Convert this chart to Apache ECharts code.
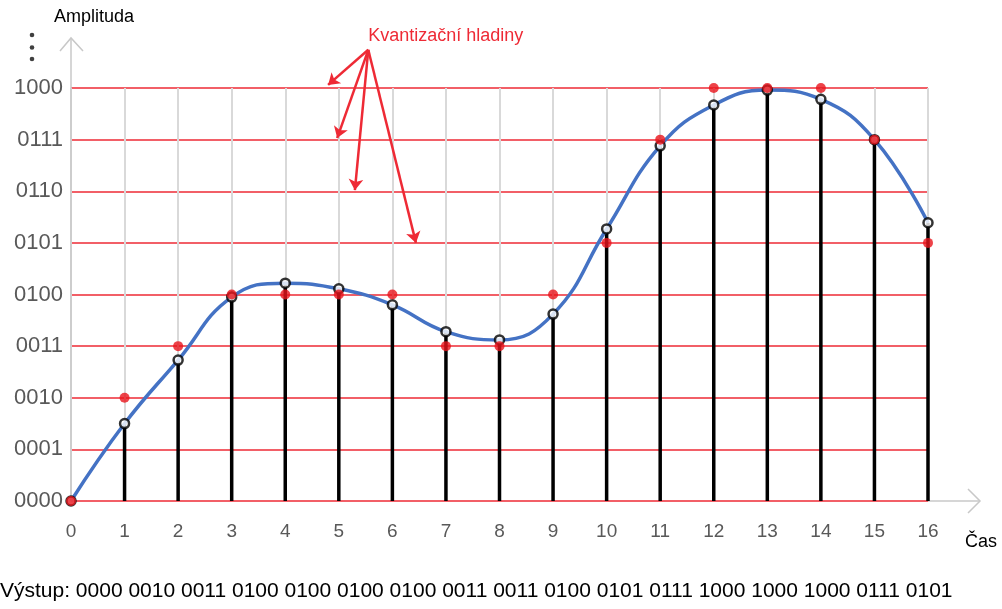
<!DOCTYPE html>
<html>
<head>
<meta charset="utf-8">
<script src="https://cdn.jsdelivr.net/npm/echarts@6/dist/echarts.min.js"></script>
<style>
  html, body { margin: 0; padding: 0; background: #fff; }
  #chart { width: 1002px; height: 609px; }
</style>
</head>
<body>
<div id="chart"></div>
<script>
// sample times and quantization levels
const times = [0, 1, 2, 3, 4, 5, 6, 7, 8, 9, 10, 11, 12, 13, 14, 15, 16];
const levelLabels = ['0000', '0001', '0010', '0011', '0100', '0101', '0110', '0111', '1000'];
// sampled amplitude (black circles, on the blue curve)
const samples = [0, 1.50, 2.73, 3.95, 4.22, 4.11, 3.80, 3.28, 3.12, 3.62, 5.27, 6.88, 7.67, 7.96, 7.78, 7.00, 5.39];
// quantized level (red dots)
const quantized = [0, 2, 3, 4, 4, 4, 4, 3, 3, 4, 5, 7, 8, 8, 8, 7, 5];
// annotation arrows "Kvantizační hladiny" (data coords)
const arrowFrom = [5.55, 8.74];
const arrowTips = [[4.80, 8.06], [4.97, 7.03], [5.30, 6.02], [6.44, 5.00]];

const FONT = 'Liberation Sans, Arial, sans-serif';
const RED = '#ee2a35';

const chart = echarts.init(document.getElementById('chart'));

const curve = times.map((t, i) => [t, samples[i]]);
const dots = times.map((t, i) => [t, quantized[i]]);
const outputText = 'Výstup: ' + quantized.map(q => levelLabels[q]).join(' ');

chart.setOption({
  animation: false,
  backgroundColor: '#fff',
  textStyle: { fontFamily: FONT },
  grid: { left: 71, right: 74, top: 88, bottom: 108 },
  title: {
    text: outputText, left: 0, top: 581, padding: 0,
    textStyle: { fontFamily: FONT, fontSize: 21, fontWeight: 'normal', color: '#000' },
  },
  xAxis: {
    type: 'value', min: 0, max: 16, interval: 1,
    axisLine: { show: false },
    axisTick: { show: false },
    axisLabel: { color: '#595959', fontSize: 19, margin: 21, fontFamily: FONT },
    splitLine: { show: true, lineStyle: { color: '#d9d9d9', width: 2 } },
  },
  yAxis: {
    type: 'value', min: 0, max: 8, interval: 1,
    axisLine: { show: false },
    axisTick: { show: false },
    axisLabel: {
      color: '#595959', fontSize: 22, margin: 8, fontFamily: FONT,
      formatter: v => levelLabels[v] ?? '',
    },
    splitLine: { show: true, lineStyle: { color: RED, width: 1.5 } },
  },
  series: [
    {
      // stems
      type: 'bar', data: curve, barWidth: 3.5,
      itemStyle: { color: '#000' }, z: 2, silent: true,
    },
    {
      type: 'line', data: curve, smooth: 0.45, symbol: 'none', clip: false,
      lineStyle: { color: '#4472c4', width: 3.5 }, z: 3,
    },
    {
      type: 'scatter', data: curve, symbol: 'circle', symbolSize: 9, clip: false,
      itemStyle: { color: '#fff', borderColor: '#000', borderWidth: 2.5 }, z: 4,
    },
    {
      type: 'scatter', data: dots, symbol: 'circle', symbolSize: 10, clip: false,
      itemStyle: { color: '#e8141c' }, z: 5,
    },
    {
      type: 'lines', coordinateSystem: 'cartesian2d', clip: false, z: 6,
      symbol: ['none', 'arrow'], symbolSize: 11,
      lineStyle: { color: RED, width: 2.5, opacity: 1 },
      data: arrowTips.map(tip => ({ coords: [arrowFrom, tip] })),
    },
  ],
});

// axis arrows and free text placed from the grid corners
function drawExtras() {
  const o = chart.convertToPixel({ gridIndex: 0 }, [0, 0]);
  const r = chart.convertToPixel({ gridIndex: 0 }, [16, 0]);
  const a = chart.convertToPixel({ gridIndex: 0 }, arrowFrom);
  const axisStyle = { stroke: '#c8c8c8', lineWidth: 1.5, fill: null };
  const yTop = 38, xEnd = 980;
  chart.setOption({
    graphic: [
      { type: 'line', shape: { x1: o[0], y1: o[1], x2: o[0], y2: yTop }, style: axisStyle, z: 1 },
      { type: 'polyline', shape: { points: [[o[0] - 11, yTop + 13], [o[0], yTop], [o[0] + 12, yTop + 13]] }, style: axisStyle },
      { type: 'line', shape: { x1: r[0], y1: r[1], x2: xEnd, y2: r[1] }, style: axisStyle, z: 1 },
      { type: 'polyline', shape: { points: [[xEnd - 12, r[1] - 12], [xEnd, r[1]], [xEnd - 12, r[1] + 12]] }, style: axisStyle },
      { type: 'circle', shape: { cx: 32, cy: 35, r: 2.3 }, style: { fill: '#404040' } },
      { type: 'circle', shape: { cx: 32, cy: 47.5, r: 2.3 }, style: { fill: '#404040' } },
      { type: 'circle', shape: { cx: 32, cy: 59, r: 2.3 }, style: { fill: '#404040' } },
      { type: 'text', left: 54, top: 8, style: { text: 'Amplituda', font: '18px ' + FONT, fill: '#000' } },
      { type: 'text', left: 965, top: 533, style: { text: 'Čas', font: '18px ' + FONT, fill: '#000' } },
      { type: 'text', x: a[0], y: a[1] - 14, style: { text: 'Kvantizační hladiny', font: '18px ' + FONT, fill: RED, textVerticalAlign: 'middle' } },
    ],
  });
}
drawExtras();
window.addEventListener('resize', () => chart.resize());
</script>
</body>
</html>
